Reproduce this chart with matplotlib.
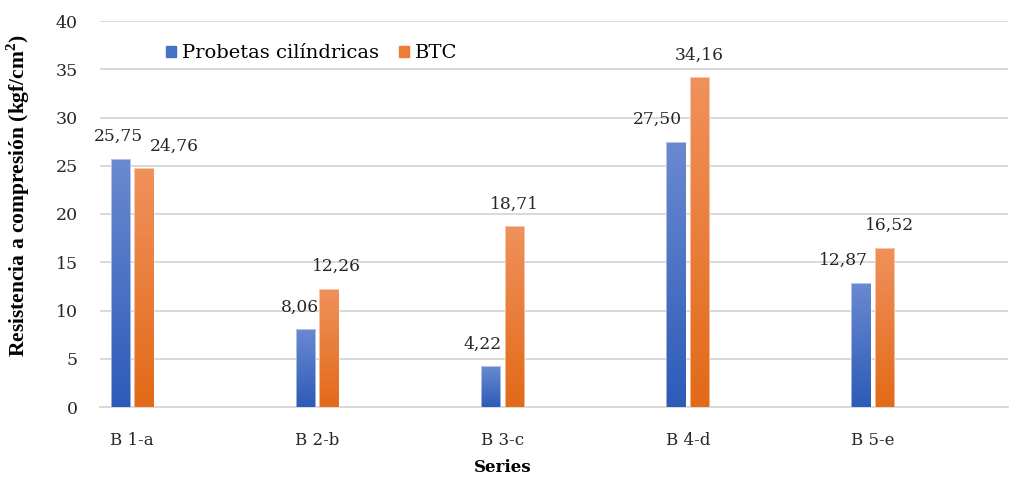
import numpy as np
import matplotlib.pyplot as plt
from matplotlib.colors import LinearSegmentedColormap

categories = ['B 1-a', 'B 2-b', 'B 3-c', 'B 4-d', 'B 5-e']
probetas = [25.75, 8.06, 4.22, 27.50, 12.87]
btc = [24.76, 12.26, 18.71, 34.16, 16.52]
series_names = ['Probetas cilíndricas', 'BTC']

# label nudges (pixels) so neighbouring labels don't collide
nudge_probetas = [-2, -6, -8, -19, -18]
nudge_btc = [31, 7, 0, 0, 5]

serif = ['DejaVu Serif']
fig = plt.figure(figsize=(10.16, 4.79), dpi=100)
ax = fig.add_axes([100 / 1016, 72 / 479, 908 / 1016, 386 / 479])

blue_cmap = LinearSegmentedColormap.from_list('b', ['#2d5bb8', '#6a8ad0'])
orange_cmap = LinearSegmentedColormap.from_list('o', ['#e26a18', '#f0915c'])
grad = np.linspace(0, 1, 256).reshape(-1, 1)

x = np.arange(len(categories))
width = 0.105
offset = 0.0635


def gradient_bars(xs, vals, cmap, nudges):
    bars = ax.bar(xs, vals, width, facecolor='none', edgecolor='none', zorder=3)
    for b, v, dx in zip(bars, vals, nudges):
        x0, y0 = b.get_x(), b.get_y()
        im = ax.imshow(grad, cmap=cmap, origin='lower', aspect='auto',
                       extent=[x0, x0 + b.get_width(), y0, y0 + b.get_height()],
                       zorder=3)
        im.set_clip_path(b)
        ax.add_patch(plt.Rectangle((x0, y0), b.get_width(), b.get_height(),
                                   fill=False, edgecolor='white', lw=0.6,
                                   alpha=0.6, zorder=4))
        ax.annotate(f'{v:.2f}'.replace('.', ','), (b.get_x() + b.get_width() / 2, v),
                    xytext=(dx, 22), textcoords='offset pixels',
                    ha='center', va='center', fontsize=12.3, family=serif,
                    color='#262626')
    return bars


gradient_bars(x - offset, probetas, blue_cmap, nudge_probetas)
gradient_bars(x + offset, btc, orange_cmap, nudge_btc)

ax.set_xlim(-0.173, 4.729)
ax.set_ylim(0, 40)
ax.set_yticks(range(0, 41, 5))
ax.set_xticks(x)
ax.set_xticklabels(categories)
ax.grid(axis='y', color='#d9d9d9', lw=1.4, zorder=0)
ax.set_axisbelow(True)
for s in ['top', 'right', 'left']:
    ax.spines[s].set_visible(False)
ax.spines['bottom'].set_color('#d9d9d9')
ax.spines['bottom'].set_linewidth(1.4)
ax.tick_params(length=0, colors='#262626')
ax.tick_params(axis='y', pad=16, labelsize=12.5)
ax.tick_params(axis='x', pad=18, labelsize=12)
for lab in ax.get_xticklabels() + ax.get_yticklabels():
    lab.set_family(serif)

ax.set_ylabel('Resistencia a compresión (kgf/cm$^{\\mathregular{2}}$)',
              family='Liberation Serif', fontweight='bold', fontsize=15.5,
              va='center')
ax.yaxis.set_label_coords(-0.09, 0.549)
ax.set_xlabel('Series', family=serif, fontweight='bold', fontsize=12,
              va='center')
ax.xaxis.set_label_coords(0.444, -0.158)

handles = [plt.Rectangle((0, 0), 1, 1, color='#4472c4'),
           plt.Rectangle((0, 0), 1, 1, color='#ed7d31')]
ax.legend(handles, series_names, loc='upper left', bbox_to_anchor=(0.053, 0.985),
          ncol=2, frameon=False, handlelength=0.55, handleheight=0.55,
          handletextpad=0.3, columnspacing=1.0,
          prop={'family': serif, 'size': 14})

fig.savefig('out.png', dpi=100)
